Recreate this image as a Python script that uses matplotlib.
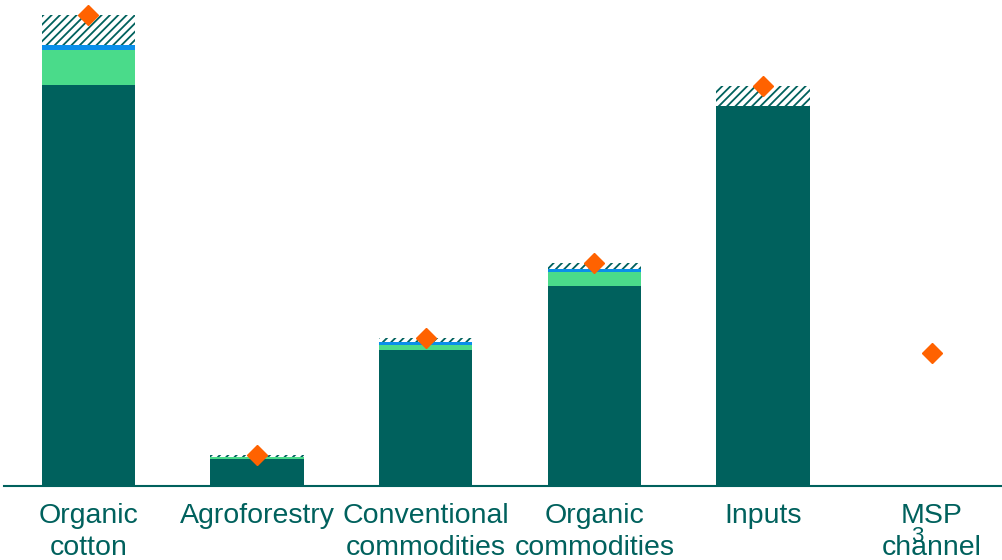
import numpy as np
import matplotlib.pyplot as plt

plt.rcParams['font.family'] = ['Liberation Sans', 'DejaVu Sans']
plt.rcParams['hatch.linewidth'] = 1.3

categories = ['Organic\ncotton', 'Agroforestry', 'Conventional\ncommodities',
              'Organic\ncommodities', 'Inputs', 'MSP\nchannel']
base = [85.1, 5.7, 28.9, 42.5, 80.7, 0.0]
green = [7.4, 0.4, 1.1, 3.0, 0.0, 0.0]
blue = [1.1, 0.0, 0.6, 0.6, 0.0, 0.0]
hatched = [6.4, 0.4, 0.8, 1.3, 4.2, 0.3]
totals = [100.0, 6.6, 31.4, 47.3, 84.9, 28.2]

teal = '#00615D'
light_green = '#4ADB8A'
bright_blue = '#0A8FEA'
orange = '#FF6200'

fig = plt.figure(figsize=(10.02, 5.6), dpi=100)
ax = fig.add_axes([4 / 1002, 74 / 560, 1012 / 1002, 486 / 560])

x = np.arange(len(categories))
w = 0.555
bottom = np.zeros(len(categories))
ax.bar(x, base, w, bottom=bottom, color=teal, linewidth=0)
bottom += base
ax.bar(x, green, w, bottom=bottom, color=light_green, linewidth=0)
bottom += green
ax.bar(x, blue, w, bottom=bottom, color=bright_blue, linewidth=0)
bottom += blue
ax.bar(x, hatched, w, bottom=bottom, color='white', edgecolor=teal,
       hatch='////', linewidth=0)

# total markers sit on top of each stack
ax.plot(x, totals, linestyle='none', marker='D', markersize=10,
        color=orange, zorder=5)

ax.set_xlim(-0.5, 5.5)
ax.set_ylim(0, 103.2)
ax.set_xticks(x)
ax.set_xticklabels(categories, color=teal, fontsize=20.5, linespacing=1.3)
ax.tick_params(axis='x', length=0, pad=12)
ax.set_yticks([])
for side in ['top', 'right', 'left']:
    ax.spines[side].set_visible(False)
ax.spines['bottom'].set_color(teal)
ax.spines['bottom'].set_linewidth(1.5)

fig.text(917 / 1002, 1 - 537 / 560, '3', color=teal, fontsize=16,
         ha='center', va='center')

fig.savefig('out.png', dpi=100)
